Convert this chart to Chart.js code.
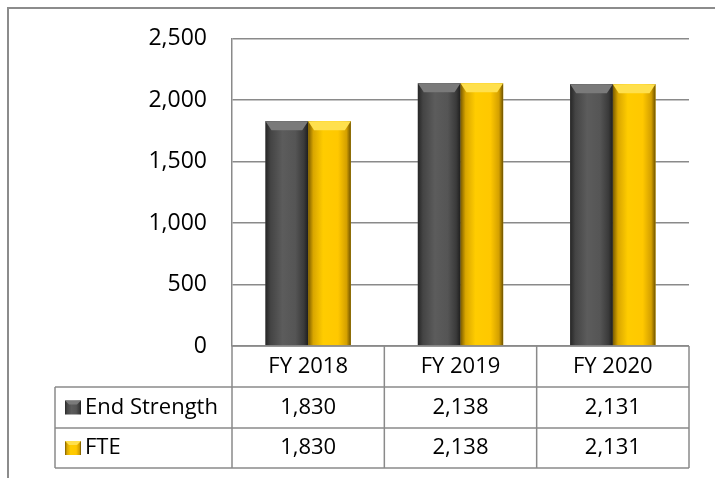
<!DOCTYPE html>
<html>
<head>
<meta charset="utf-8">
<script src="https://cdn.jsdelivr.net/npm/chart.js@4/dist/chart.umd.min.js"></script>
<style>
    html, body { margin: 0; padding: 0; background: #fff; }
    #wrap { width: 715px; height: 478px; position: relative; }
</style>
</head>
<body>
<div id="wrap"><canvas id="chart" width="715" height="478"></canvas></div>
<script>
// Chart data
var categories = ['FY 2018', 'FY 2019', 'FY 2020'];
var seriesNames = ['End Strength', 'FTE'];
var endStrength = [1830, 2138, 2131];
var fte = [1830, 2138, 2131];
var tickValues = [0, 500, 1000, 1500, 2000, 2500];

var FONT = '"Open Sans", Lato, sans-serif';
var GRID = '#8a8a8a';

// bar colour stops (left to right)
var barStops = [
    [[0, '#262626'], [0.12, '#444444'], [0.4, '#5c5c5c'], [0.7, '#555555'], [0.9, '#3a3a3a'], [1, '#1e1e1e']],
    [[0, '#7a5b00'], [0.12, '#d9a600'], [0.35, '#ffcc00'], [0.7, '#ffc800'], [0.9, '#d4a000'], [1, '#6e5200']]
];
var bevelColor = ['#7a7a7a', '#ffe04d'];

function fmt(v) {
    return v.toLocaleString('en-US');
}

// Paint the bevelled look over each bar
var bevelBars = {
    id: 'bevelBars',
    afterDatasetsDraw: function(chart) {
        var ctx = chart.ctx;
        chart.data.datasets.forEach(function(ds, di) {
            var meta = chart.getDatasetMeta(di);
            meta.data.forEach(function(bar) {
                var left = bar.x - bar.width / 2;
                var right = bar.x + bar.width / 2;
                var top = bar.y;
                var bottom = bar.base;
                var g = ctx.createLinearGradient(left, 0, right, 0);
                barStops[di].forEach(function(s) { g.addColorStop(s[0], s[1]); });
                ctx.save();
                ctx.fillStyle = g;
                ctx.fillRect(left, top, right - left, bottom - top);
                // top facet
                var inset = bar.width * 0.14;
                var bh = 9;
                ctx.beginPath();
                ctx.moveTo(left, top);
                ctx.lineTo(right, top);
                ctx.lineTo(right - inset, top + bh);
                ctx.lineTo(left + inset, top + bh);
                ctx.closePath();
                ctx.fillStyle = bevelColor[di];
                ctx.fill();
                ctx.restore();
            });
        });
    }
};

// Data table under the plot, plus the outer frame
var dataTable = {
    id: 'dataTable',
    afterDraw: function(chart) {
        var ctx = chart.ctx;
        var area = chart.chartArea;
        var xs = chart.scales.x;
        var half = (xs.getPixelForValue(1) - xs.getPixelForValue(0)) / 2;
        var rowH = 41;
        var labelLeft = 55;
        var y0 = area.bottom;
        var y1 = y0 + rowH, y2 = y1 + rowH, y3 = y2 + 40;

        ctx.save();
        // outer frame
        ctx.strokeStyle = '#8c8c8c';
        ctx.lineWidth = 2;
        ctx.beginPath();
        ctx.moveTo(8, 478);
        ctx.lineTo(8, 8);
        ctx.lineTo(715, 8);
        ctx.stroke();

        // table lines
        ctx.strokeStyle = GRID;
        ctx.lineWidth = 1.5;
        ctx.beginPath();
        ctx.moveTo(area.left, y0); ctx.lineTo(area.right, y0);
        [y1, y2, y3].forEach(function(y) {
            ctx.moveTo(labelLeft, y); ctx.lineTo(area.right, y);
        });
        ctx.moveTo(labelLeft, y1); ctx.lineTo(labelLeft, y3);
        ctx.moveTo(area.left, y0); ctx.lineTo(area.left, y3);
        categories.forEach(function(c, i) {
            var xr = xs.getPixelForValue(i) + half;
            ctx.moveTo(xr, y0); ctx.lineTo(xr, y3);
        });
        ctx.stroke();

        // text
        ctx.fillStyle = '#000';
        ctx.font = '22px ' + FONT;
        ctx.textBaseline = 'middle';
        ctx.textAlign = 'center';
        categories.forEach(function(c, i) {
            ctx.fillText(c, xs.getPixelForValue(i), (y0 + y1) / 2);
        });
        var rows = [endStrength, fte];
        var rowMid = [(y1 + y2) / 2, (y2 + y3) / 2];
        rows.forEach(function(vals, r) {
            ctx.textAlign = 'center';
            vals.forEach(function(v, i) {
                ctx.fillText(fmt(v), xs.getPixelForValue(i), rowMid[r]);
            });
            // legend key
            var kx = 65, ky = rowMid[r] - 7, kw = 16, kh = 14;
            var g = ctx.createLinearGradient(kx, 0, kx + kw, 0);
            barStops[r].forEach(function(s) { g.addColorStop(s[0], s[1]); });
            ctx.fillStyle = g;
            ctx.fillRect(kx, ky, kw, kh);
            ctx.fillStyle = bevelColor[r];
            ctx.beginPath();
            ctx.moveTo(kx, ky);
            ctx.lineTo(kx + kw, ky);
            ctx.lineTo(kx + kw - 4, ky + 4);
            ctx.lineTo(kx + 4, ky + 4);
            ctx.closePath();
            ctx.fill();
            ctx.fillStyle = '#000';
            ctx.textAlign = 'left';
            ctx.fillText(seriesNames[r], 85, rowMid[r]);
        });
        ctx.restore();
    }
};

var ctx = document.getElementById('chart').getContext('2d');
new Chart(ctx, {
    type: 'bar',
    data: {
        labels: categories,
        datasets: [
            { label: seriesNames[0], data: endStrength, backgroundColor: '#555555' },
            { label: seriesNames[1], data: fte, backgroundColor: '#ffcc00' }
        ]
    },
    options: {
        responsive: false,
        animation: false,
        layout: { padding: { top: 36, right: 26, bottom: 132, left: 0 } },
        plugins: {
            legend: { display: false },
            tooltip: { enabled: false }
        },
        datasets: {
            bar: { categoryPercentage: 0.56, barPercentage: 1.0 }
        },
        scales: {
            x: {
                ticks: { display: false },
                grid: { display: false, drawTicks: false },
                border: { display: false }
            },
            y: {
                min: 0,
                max: 2500,
                afterBuildTicks: function(scale) {
                    scale.ticks = tickValues.map(function(v) { return { value: v }; });
                },
                afterFit: function(scale) { scale.width = 232; },
                ticks: {
                    padding: 25,
                    color: '#000',
                    font: { family: FONT, size: 23 },
                    callback: function(v) { return fmt(v); }
                },
                grid: { color: GRID, lineWidth: 1.5, drawTicks: false },
                border: { display: true, color: GRID, width: 1.5 }
            }
        }
    },
    plugins: [bevelBars, dataTable]
});
</script>
</body>
</html>
